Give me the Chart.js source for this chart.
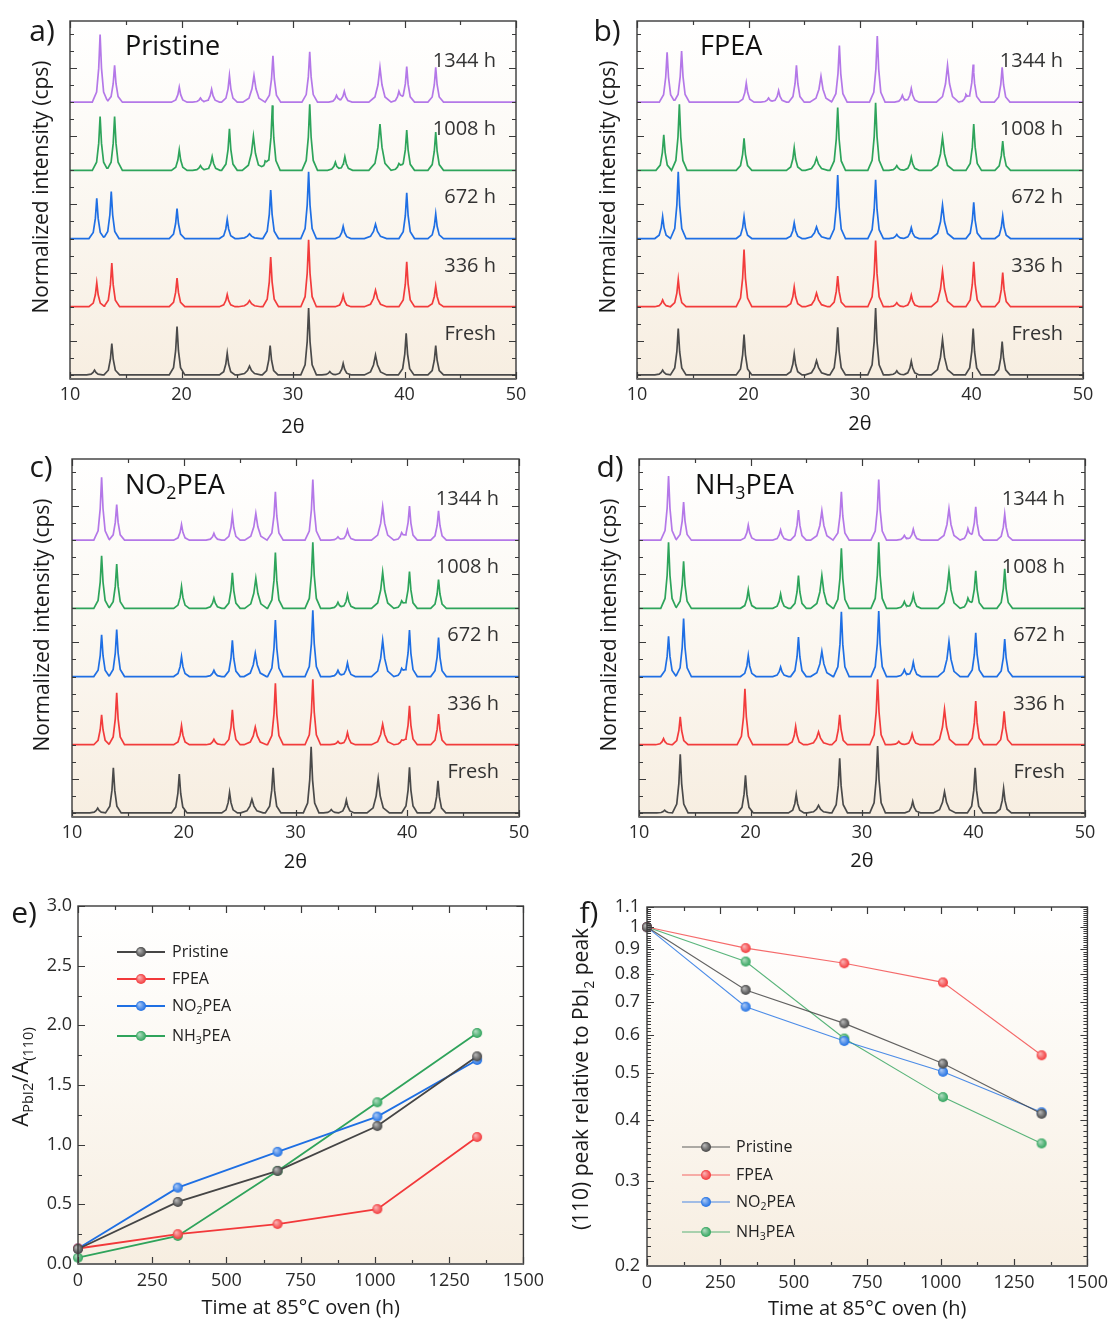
<!DOCTYPE html>
<html>
<head>
<meta charset="utf-8">
<script src="https://cdn.jsdelivr.net/npm/chart.js@4.4.1/dist/chart.umd.min.js"></script>
<style>
  body { margin: 0; background: #fff; font-family: "Open Sans", sans-serif; color: #1a1a1a; }
  #fig { position: relative; width: 1114px; height: 1323px; overflow: hidden; }
  canvas { position: absolute; }
  .lab { position: absolute; font-size: 30px; line-height: 1; transform: translate(-50%, -50%); }
  .ytitle { position: absolute; white-space: nowrap; font-size: 21px; line-height: 1;
            transform: translate(-50%, -50%) rotate(-90deg); color: #1a1a1a; }
  sub { font-size: 0.66em; }
</style>
</head>
<body>
<div id="fig">
  <canvas id="ca" width="540" height="440" style="left:0;top:0"></canvas>
  <canvas id="cb" width="554" height="440" style="left:560px;top:0"></canvas>
  <canvas id="cc" width="540" height="440" style="left:0;top:440px"></canvas>
  <canvas id="cd" width="554" height="440" style="left:560px;top:440px"></canvas>
  <canvas id="ce" width="550" height="443" style="left:0;top:880px"></canvas>
  <canvas id="cf" width="554" height="443" style="left:560px;top:880px"></canvas>

  <div class="lab" style="left:42px;top:30px">a)</div>
  <div class="lab" style="left:607px;top:30px">b)</div>
  <div class="lab" style="left:41px;top:466px">c)</div>
  <div class="lab" style="left:610px;top:466px">d)</div>
  <div class="lab" style="left:24px;top:912px">e)</div>
  <div class="lab" style="left:589px;top:912px">f)</div>

  <div class="ytitle" style="left:40px;top:187px">Normalized intensity (cps)</div>
  <div class="ytitle" style="left:607px;top:187px">Normalized intensity (cps)</div>
  <div class="ytitle" style="left:41px;top:625px">Normalized intensity (cps)</div>
  <div class="ytitle" style="left:608px;top:625px">Normalized intensity (cps)</div>
  <div class="ytitle" style="left:21px;top:1077px;font-size:22px">A<sub>PbI2</sub>/A<sub>(110)</sub></div>
  <div class="ytitle" style="left:583px;top:1079px">(110) peak relative to PbI<sub>2</sub> peak</div>
</div>

<script>
// ---- XRD patterns: [2θ, normalized peak height] for Fresh, 336 h, 672 h, 1008 h, 1344 h
const ageLabels = ['Fresh', '336 h', '672 h', '1008 h', '1344 h'];
const ageColors = ['#4a4a4a', '#f23c3c', '#1f6fe4', '#2ea45b', '#b478e8'];

const pristinePeaks = [
  [[12.2,.07],[13.75,.46],[19.6,.71],[24.1,.32],[26.1,.13],[27.95,.43],[31.4,.98],[33.3,.05],[34.5,.17],[37.4,.29],[40.15,.61],[42.8,.43]],
  [[12.4,.35],[13.75,.64],[19.6,.42],[24.1,.18],[26.1,.09],[28.0,.73],[31.4,.98],[34.5,.17],[37.4,.24],[40.2,.66],[42.8,.30]],
  [[12.4,.59],[13.7,.69],[19.6,.44],[24.1,.28],[26.1,.07],[28.0,.71],[31.4,.98],[34.5,.18],[37.4,.21],[40.2,.67],[42.8,.36]],
  [[12.7,.79],[14.0,.79],[19.8,.30],[21.7,.07],[22.75,.2],[24.3,.61],[26.45,.5],[27.5,.12],[28.15,.95],[31.5,.97],[33.8,.12],[34.65,.2],[37.8,.68],[39.5,.1],[40.2,.59],[42.8,.56]],
  [[12.7,.99],[14.0,.54],[19.8,.22],[21.7,.06],[22.7,.19],[24.3,.39],[26.5,.39],[28.2,.68],[31.5,.74],[33.9,.1],[34.6,.16],[37.8,.51],[39.5,.16],[40.2,.52],[42.8,.51]]
];
const fpeaPeaks = [
  [[12.3,.07],[13.7,.68],[19.6,.59],[24.1,.31],[26.1,.21],[28.0,.70],[31.4,.98],[33.3,.06],[34.6,.2],[37.4,.52],[40.15,.68],[42.75,.49]],
  [[12.3,.1],[13.7,.4],[19.6,.84],[24.1,.29],[26.1,.2],[28.0,.45],[31.4,.97],[33.3,.06],[34.6,.17],[37.4,.52],[40.2,.66],[42.8,.5]],
  [[12.3,.32],[13.7,.98],[19.6,.32],[24.1,.23],[26.1,.17],[28.0,.93],[31.4,.86],[33.3,.06],[34.6,.16],[37.4,.49],[40.2,.53],[42.8,.33]],
  [[12.4,.52],[13.8,.97],[19.6,.47],[24.1,.33],[26.1,.18],[28.0,.92],[31.4,.99],[33.3,.07],[34.6,.19],[37.4,.48],[40.2,.68],[42.8,.43]],
  [[12.7,.73],[14.0,.75],[19.8,.28],[21.8,.06],[22.7,.17],[24.3,.54],[26.5,.38],[28.15,.83],[31.55,.97],[33.8,.1],[34.6,.2],[37.85,.54],[39.5,.1],[40.15,.55],[42.75,.51]]
];
const no2peaPeaks = [
  [[12.3,.07],[13.7,.66],[19.6,.57],[24.1,.3],[26.1,.2],[28.0,.66],[31.4,.97],[33.2,.05],[34.55,.19],[37.4,.5],[40.2,.67],[42.75,.47]],
  [[12.65,.44],[14.0,.76],[19.8,.28],[22.7,.08],[24.35,.51],[26.4,.26],[28.2,.9],[31.55,.96],[33.8,.05],[34.65,.18],[37.8,.3],[39.5,.07],[40.2,.57],[42.8,.45]],
  [[12.65,.61],[14.0,.69],[19.8,.29],[22.7,.09],[24.35,.53],[26.4,.34],[28.2,.83],[31.55,.97],[33.8,.09],[34.65,.2],[37.8,.53],[39.5,.12],[40.2,.68],[42.8,.57]],
  [[12.65,.77],[14.0,.65],[19.8,.32],[22.7,.15],[24.35,.52],[26.45,.44],[28.2,.82],[31.55,.97],[33.8,.09],[34.65,.2],[37.8,.53],[39.5,.11],[40.2,.54],[42.8,.42]],
  [[12.65,.92],[14.0,.52],[19.8,.23],[22.7,.1],[24.35,.37],[26.45,.39],[28.2,.71],[31.55,.89],[33.8,.05],[34.65,.15],[37.8,.49],[39.5,.11],[40.2,.5],[42.8,.43]]
];
const nh3peaPeaks = [
  [[12.3,.04],[13.7,.86],[19.55,.55],[24.1,.27],[26.1,.11],[28.0,.8],[31.4,.98],[34.55,.17],[37.4,.31],[40.15,.66],[42.7,.36]],
  [[12.2,.09],[13.7,.41],[19.5,.82],[24.05,.27],[26.1,.19],[28.0,.44],[31.4,.96],[33.3,.05],[34.5,.16],[37.4,.52],[40.2,.64],[42.75,.49]],
  [[12.65,.59],[14.0,.85],[19.8,.31],[22.7,.14],[24.3,.58],[26.4,.37],[28.15,.95],[31.5,.96],[33.8,.1],[34.6,.21],[37.8,.51],[40.2,.64],[42.8,.55]],
  [[12.65,.97],[14.0,.69],[19.8,.27],[22.7,.21],[24.3,.48],[26.4,.48],[28.15,.88],[31.5,.97],[33.8,.1],[34.6,.2],[37.8,.54],[39.5,.15],[40.2,.55],[42.8,.58]],
  [[12.65,.94],[14.0,.56],[19.8,.22],[22.7,.15],[24.3,.44],[26.4,.43],[28.15,.71],[31.5,.89],[33.8,.07],[34.6,.16],[37.8,.46],[39.5,.17],[40.2,.49],[42.8,.38]]
];

// ---- PbI2 evolution vs. oven time
const hours = [0, 336, 672, 1008, 1344];
const sampleNames = ['Pristine', 'FPEA', 'NO{2}PEA', 'NH{3}PEA'];
const sampleColors = ['#454545', '#f2383a', '#1e6fe3', '#2fa35b'];
const ratioPristine = [0.126, 0.52, 0.78, 1.156, 1.74];
const ratioFPEA = [0.13, 0.25, 0.335, 0.46, 1.064];
const ratioNO2 = [0.13, 0.64, 0.94, 1.235, 1.71];
const ratioNH3 = [0.053, 0.235, 0.78, 1.355, 1.936];
const relPristine = [1.0, 0.742, 0.633, 0.523, 0.412];
const relFPEA = [1.0, 0.905, 0.842, 0.769, 0.544];
const relNO2 = [1.0, 0.685, 0.582, 0.503, 0.415];
const relNH3 = [1.0, 0.849, 0.589, 0.446, 0.358];

const fYTicks = [0.2, 0.3, 0.4, 0.5, 0.6, 0.7, 0.8, 0.9, 1, 1.1];

Chart.defaults.font.family = '"Open Sans", sans-serif';
Chart.defaults.color = '#2a2a2a';

function range(a, b, step) {
  const out = [];
  for (let v = a; v <= b + 1e-9; v += step) out.push(+v.toFixed(4));
  return out;
}
function without(list, major) {
  return list.filter(v => !major.some(m => Math.abs(m - v) < 1e-6));
}

// peak profile (in units of the half base width) used to turn a peak table into a polyline
const SHAPE = [[-1, 0], [-0.45, 0.15], [-0.18, 0.5], [0, 1], [0.18, 0.5], [0.45, 0.15], [1, 0]];
const widthAt = p => ((p > 25.8 && p < 26.8) || (p > 37.2 && p < 38.0)) ? 1.0 : 0.7;
function shapeAt(u) {
  if (u <= -1 || u >= 1) return 0;
  for (let i = 1; i < SHAPE.length; i++) {
    const [u1, v1] = SHAPE[i];
    if (u <= u1) {
      const [u0, v0] = SHAPE[i - 1];
      return v0 + (v1 - v0) * (u - u0) / (u1 - u0);
    }
  }
  return 0;
}
function traceData(peaks, offset) {
  const xs = new Set([10, 50]);
  peaks.forEach(([p]) => SHAPE.forEach(([u]) => xs.add(+(p + u * widthAt(p)).toFixed(3))));
  return [...xs].sort((a, b) => a - b).map(x => ({
    x, y: offset + peaks.reduce((s, [p, h]) => s + h * shapeAt((x - p) / widthAt(p)), 0)
  }));
}

function drawRich(ctx, str, x, y, size) {
  const parts = str.split(/[{}]/);
  let cx = x;
  parts.forEach((t, i) => {
    if (!t) return;
    const sub = i % 2 === 1;
    ctx.font = (sub ? size * 0.66 : size) + 'px "Open Sans"';
    ctx.fillText(t, cx, sub ? y + size * 0.3 : y);
    cx += ctx.measureText(t).width;
  });
}

function mix(hex, t) {
  const n = parseInt(hex.slice(1), 16);
  const c = [n >> 16, (n >> 8) & 255, n & 255].map(v => Math.round(v + (255 - v) * t));
  return `rgb(${c[0]},${c[1]},${c[2]})`;
}
function marker(color, r) {
  const c = document.createElement('canvas');
  const s = 2 * r + 2;
  c.width = c.height = s;
  const g = c.getContext('2d');
  const grd = g.createRadialGradient(s / 2 - r * 0.35, s / 2 - r * 0.35, r * 0.1, s / 2, s / 2, r);
  grd.addColorStop(0, mix(color, 0.6));
  grd.addColorStop(1, color);
  g.fillStyle = grd;
  g.beginPath(); g.arc(s / 2, s / 2, r, 0, Math.PI * 2); g.fill();
  return c;
}

// plot background + boxed frame with inward ticks on all four sides
const frame = {
  id: 'frame',
  beforeDraw(chart) {
    const { ctx, chartArea: a } = chart;
    const g = ctx.createLinearGradient(0, a.top, 0, a.bottom);
    g.addColorStop(0, '#ffffff');
    g.addColorStop(0.4, '#fcf9f4');
    g.addColorStop(1, '#f7eee1');
    ctx.save();
    ctx.fillStyle = g;
    ctx.fillRect(a.left, a.top, a.width, a.height);
    ctx.restore();
  },
  afterDraw(chart, args, o) {
    const { ctx, chartArea: a, scales: { x, y } } = chart;
    ctx.save();
    ctx.strokeStyle = '#3a3a3a';
    ctx.lineWidth = 1.2;
    ctx.beginPath();
    const xt = (vals, len) => vals.forEach(v => {
      const px = Math.round(x.getPixelForValue(v)) + 0.5;
      ctx.moveTo(px, a.bottom); ctx.lineTo(px, a.bottom - len);
      ctx.moveTo(px, a.top); ctx.lineTo(px, a.top + len);
    });
    const yt = (vals, len) => vals.forEach(v => {
      const py = Math.round(y.getPixelForValue(v)) + 0.5;
      ctx.moveTo(a.left, py); ctx.lineTo(a.left + len, py);
      ctx.moveTo(a.right, py); ctx.lineTo(a.right - len, py);
    });
    xt(o.xMajor, 7); xt(o.xMinor, 4);
    yt(o.yMajor, 7); yt(o.yMinor, 4);
    ctx.stroke();
    ctx.lineWidth = 1.4;
    ctx.strokeRect(a.left, a.top, a.width, a.height);
    ctx.strokeStyle = '#6a6a6a';
    ctx.lineWidth = 2;
    ctx.beginPath(); ctx.moveTo(a.left, a.bottom); ctx.lineTo(a.right, a.bottom); ctx.stroke();
    ctx.restore();
  }
};

const xrdText = {
  id: 'xrdText',
  afterDatasetsDraw(chart, args, o) {
    const { ctx, chartArea: a, scales: { y } } = chart;
    ctx.save();
    ctx.textBaseline = 'middle';
    ctx.fillStyle = '#333';
    ctx.textAlign = 'right';
    ctx.font = '20px "Open Sans"';
    ageLabels.forEach((t, i) => ctx.fillText(t, a.right - 20, y.getPixelForValue(i + 0.6)));
    ctx.textAlign = 'left';
    ctx.fillStyle = '#111';
    drawRich(ctx, o.name, a.left + o.dx, a.top + o.dy, 27);
    ctx.restore();
  }
};

const lineLegend = {
  id: 'lineLegend',
  afterDraw(chart, args, o) {
    const { ctx, chartArea: a } = chart;
    ctx.save();
    ctx.textBaseline = 'middle';
    ctx.textAlign = 'left';
    sampleNames.forEach((name, i) => {
      const yy = a.top + o.rows[i];
      ctx.strokeStyle = o.lineColors[i];
      ctx.lineWidth = o.lineWidth;
      ctx.beginPath();
      ctx.moveTo(a.left + o.x0, yy); ctx.lineTo(a.left + o.x1, yy);
      ctx.stroke();
      const m = o.markers[i];
      const mx = a.left + (o.x0 + o.x1) / 2;
      ctx.drawImage(m, mx - m.width / 2, yy - m.height / 2);
      ctx.fillStyle = '#222';
      drawRich(ctx, name, a.left + o.tx, yy, 16);
    });
    ctx.restore();
  }
};

const tickFont = { size: 18 };
const titleFont = { size: 20 };

function xrdChart(id, peaks, name, L) {
  const xMajor = range(10, 50, 10);
  const yMajor = [0.5, 1.5, 2.5, 3.5, 4.5];
  return new Chart(document.getElementById(id), {
    type: 'line',
    data: {
      datasets: peaks.map((p, i) => ({
        data: traceData(p, i),
        borderColor: ageColors[i],
        borderWidth: 1.7,
        pointRadius: 0,
        tension: 0
      }))
    },
    options: {
      responsive: false,
      animation: false,
      layout: { padding: { top: L.top, right: L.right, left: 0, bottom: 0 } },
      plugins: {
        legend: { display: false },
        tooltip: { enabled: false },
        frame: { xMajor, xMinor: without(range(10, 50, 5), xMajor), yMajor, yMinor: without(range(0, 5, 0.25), yMajor) },
        xrdText: { name, dx: L.dx, dy: L.dy }
      },
      scales: {
        x: {
          type: 'linear', min: 10, max: 50,
          grid: { display: false, drawTicks: false },
          border: { display: false },
          ticks: { stepSize: 10, padding: 5, font: tickFont, color: '#2a2a2a' },
          title: { display: true, text: '2θ', font: titleFont, color: '#1a1a1a', padding: { top: 0, bottom: L.tb } },
          afterFit: s => { s.height = L.xh; }
        },
        y: {
          min: -0.06, max: 5.19,
          grid: { display: false, drawTicks: false },
          border: { display: false },
          ticks: { display: false },
          afterFit: s => { s.width = L.yw; }
        }
      }
    },
    plugins: [frame, xrdText]
  });
}

xrdChart('ca', pristinePeaks, 'Pristine', { top: 21, right: 24, yw: 70, xh: 61, tb: 1, dx: 55, dy: 26 });
xrdChart('cb', fpeaPeaks, 'FPEA', { top: 21, right: 31, yw: 77, xh: 61, tb: 4, dx: 63, dy: 26 });
xrdChart('cc', no2peaPeaks, 'NO{2}PEA', { top: 19, right: 21, yw: 72, xh: 63, tb: 6, dx: 53, dy: 27 });
xrdChart('cd', nh3peaPeaks, 'NH{3}PEA', { top: 19, right: 29, yw: 79, xh: 63, tb: 7, dx: 56, dy: 27 });

function timeChart(id, series, yScale, L, lw, legendRows, legendX) {
  const markers = sampleColors.map(c => marker(c, 5));
  const xMajor = range(0, 1500, 250);
  return new Chart(document.getElementById(id), {
    type: 'line',
    data: {
      datasets: series.map((vals, i) => ({
        data: hours.map((h, k) => ({ x: h, y: vals[k] })),
        borderColor: L.lineColors[i],
        borderWidth: lw,
        pointStyle: markers[i],
        pointRadius: 5,
        tension: 0,
        clip: false
      }))
    },
    options: {
      responsive: false,
      animation: false,
      layout: { padding: { top: L.top, right: L.right, left: 0, bottom: 0 } },
      plugins: {
        legend: { display: false },
        tooltip: { enabled: false },
        frame: { xMajor, xMinor: without(range(0, 1500, 125), xMajor), yMajor: L.yMajor, yMinor: L.yMinor },
        lineLegend: { rows: legendRows, x0: legendX[0], x1: legendX[1], tx: legendX[2], lineWidth: lw, lineColors: L.lineColors, markers }
      },
      scales: {
        x: {
          type: 'linear', min: 0, max: 1500,
          grid: { display: false, drawTicks: false },
          border: { display: false },
          ticks: { stepSize: 250, padding: 6, font: tickFont, color: '#2a2a2a', callback: v => String(v) },
          title: { display: true, text: 'Time at 85°C oven (h)', font: titleFont, color: '#1a1a1a', padding: { top: 0, bottom: L.tb } },
          afterFit: s => { s.height = L.xh; }
        },
        y: Object.assign({
          grid: { display: false, drawTicks: false },
          border: { display: false },
          afterFit: s => { s.width = L.yw; }
        }, yScale)
      }
    },
    plugins: [frame, lineLegend]
  });
}

const eMajor = range(0, 3, 0.5);
timeChart('ce', [ratioPristine, ratioFPEA, ratioNO2, ratioNH3], {
  min: 0, max: 3,
  ticks: { stepSize: 0.5, padding: 6, font: tickFont, color: '#2a2a2a', callback: v => v.toFixed(1) }
}, {
  top: 26, right: 24, yw: 78, xh: 59, tb: 3,
  yMajor: eMajor, yMinor: without(range(0, 3, 0.25), eMajor),
  lineColors: sampleColors
}, 1.8, [46, 73, 100, 130], [39, 87, 94]);

timeChart('cf', [relPristine, relFPEA, relNO2, relNH3], {
  type: 'logarithmic', min: 0.2, max: 1.1,
  afterBuildTicks: s => { s.ticks = fYTicks.map(v => ({ value: v })); },
  ticks: { padding: 7, font: tickFont, color: '#2a2a2a', callback: v => String(v) }
}, {
  top: 27, right: 20, yw: 87, xh: 57, tb: 2,
  yMajor: fYTicks, yMinor: without(range(0.2, 1.1, 0.01), fYTicks),
  lineColors: ['rgba(69,69,69,0.85)', 'rgba(242,56,58,0.75)', 'rgba(30,111,227,0.8)', 'rgba(47,163,91,0.8)']
}, 1.1, [240, 268, 295, 325], [35, 83, 89]);
</script>
</body>
</html>
